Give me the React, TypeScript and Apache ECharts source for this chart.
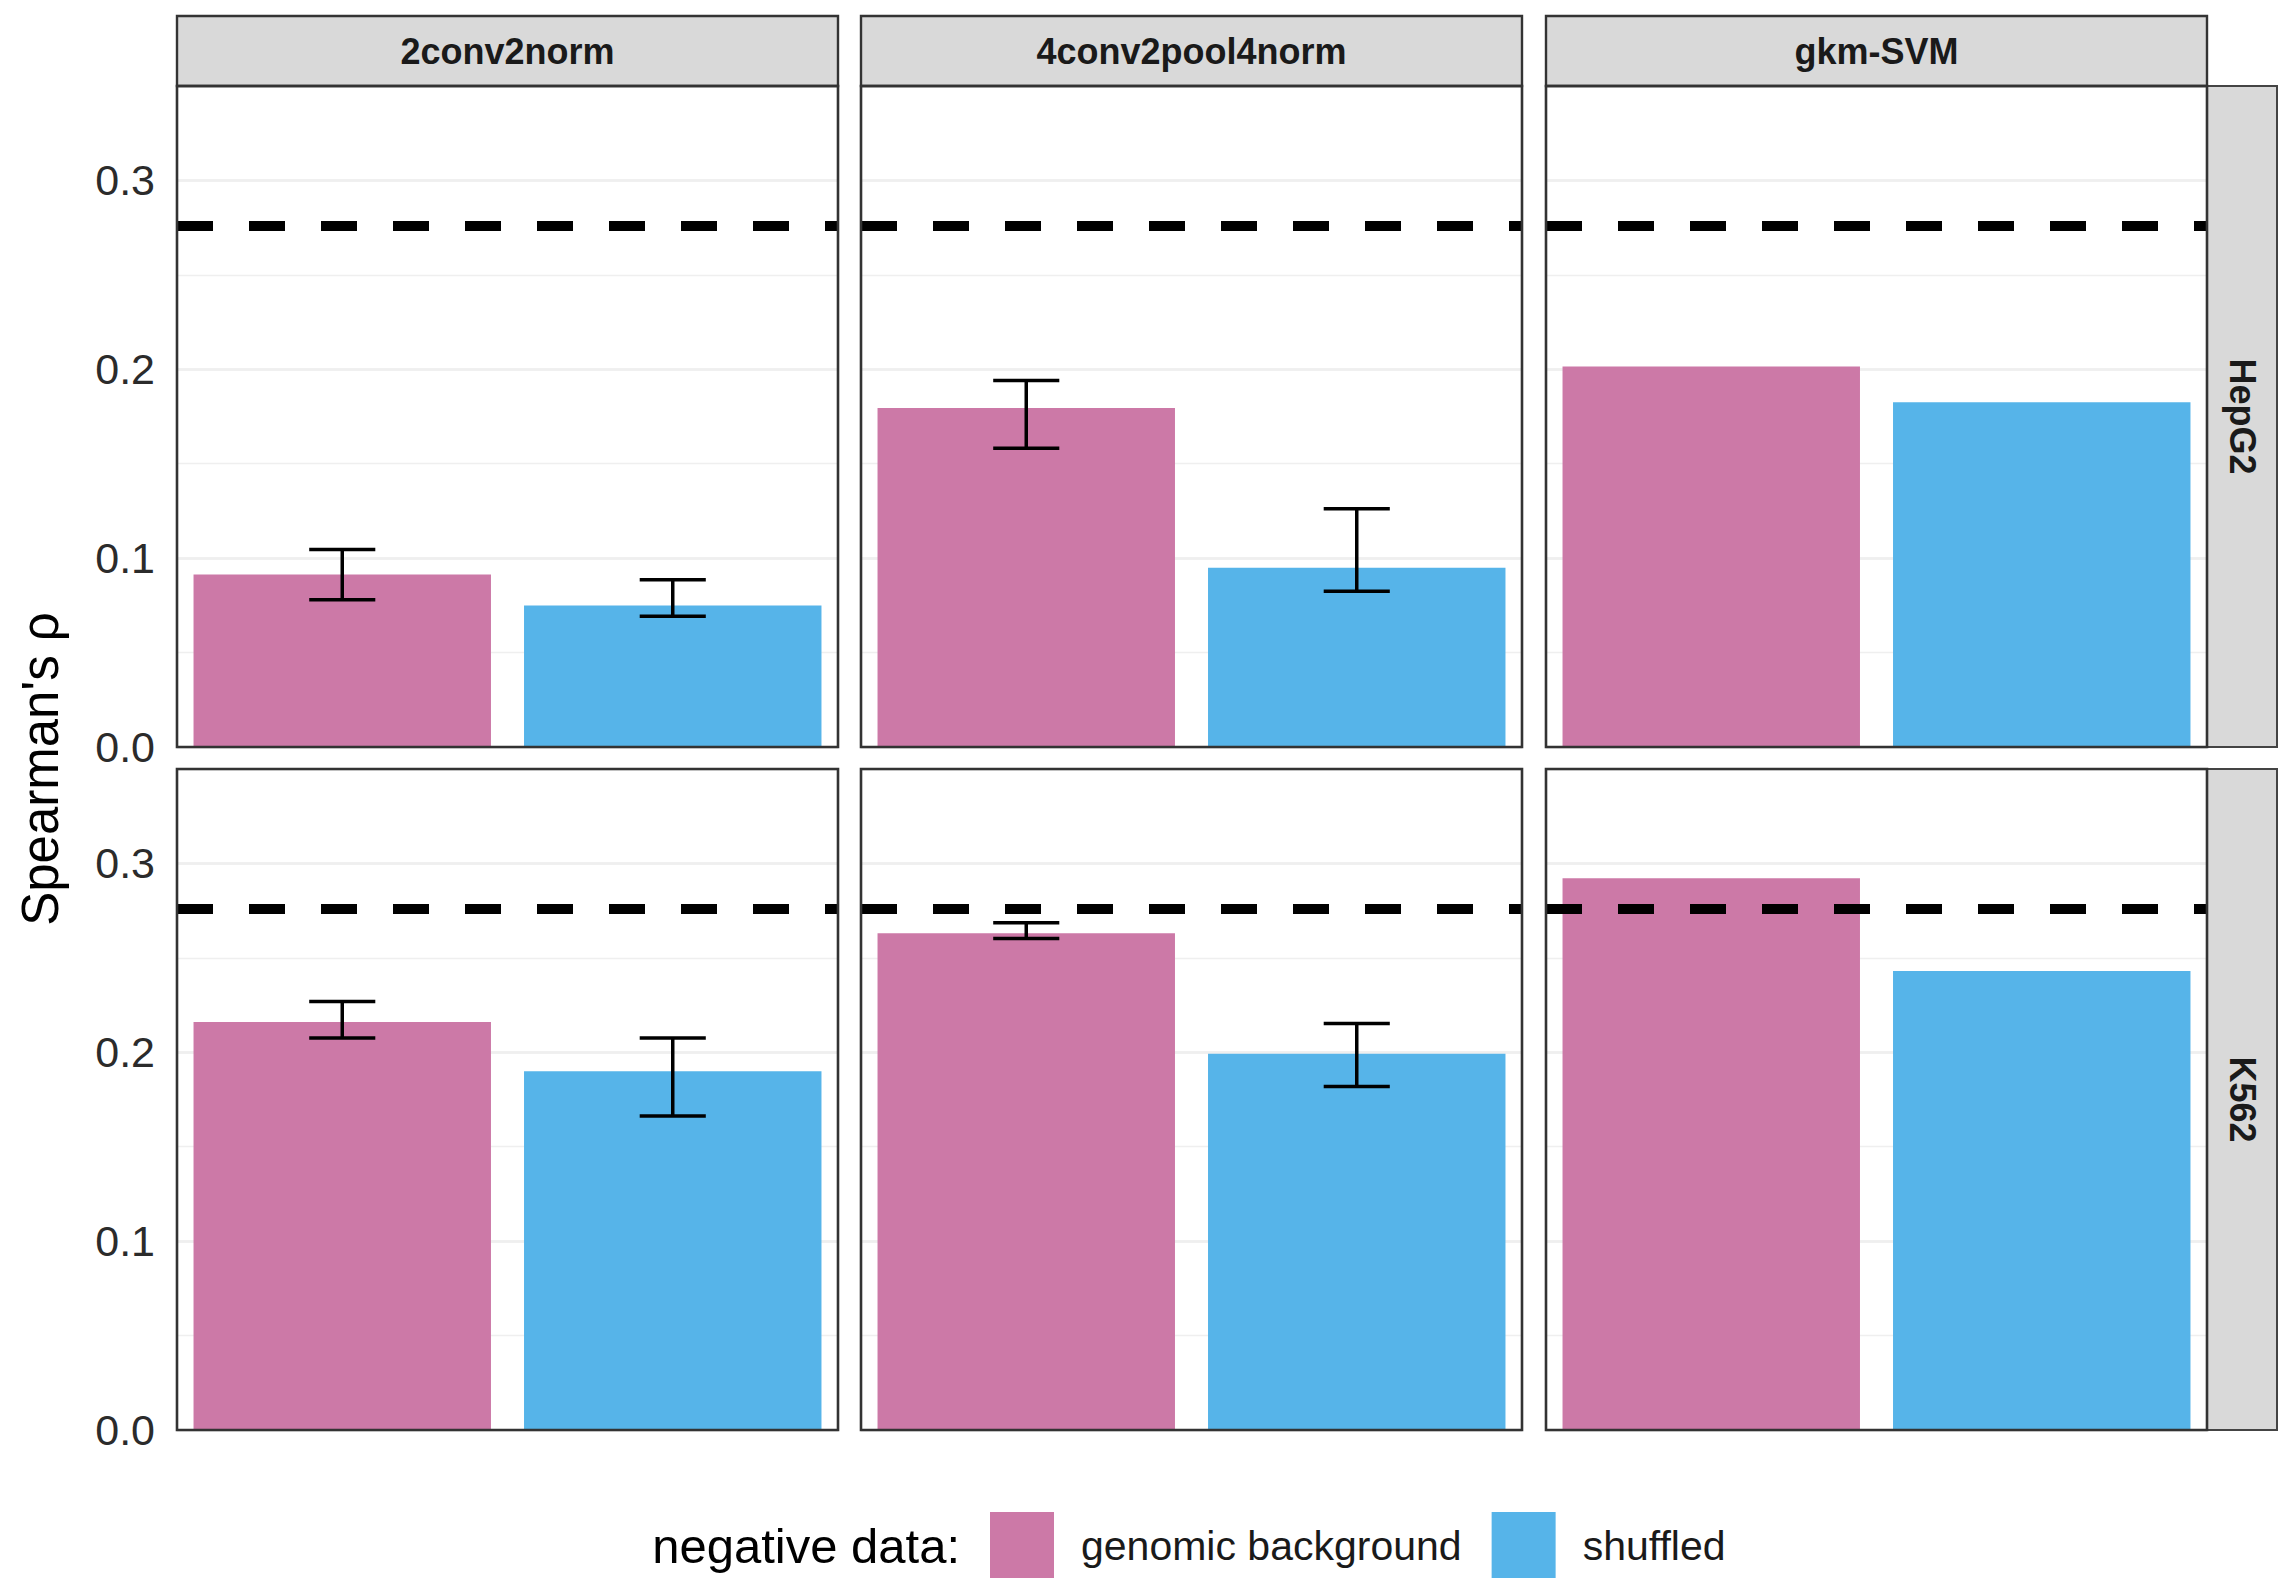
import React, { useEffect, useRef } from 'react';
import * as echarts from 'echarts';

// ---- data ----
const models = ['2conv2norm', '4conv2pool4norm', 'gkm-SVM'];
const cellLines = ['HepG2', 'K562'];
const negativeData = ['genomic background', 'shuffled'];

const genomicHepG2 = [0.0913, 0.1795, 0.2015];
const shuffledHepG2 = [0.0749, 0.0949, 0.1826];
const genomicK562 = [0.216, 0.263, 0.2921];
const shuffledK562 = [0.19, 0.1992, 0.243];

// error bar [low, high]; null = no error bar
const genomicHepG2Err = [[0.078, 0.1046], [0.1582, 0.1941], null];
const shuffledHepG2Err = [[0.0692, 0.0885], [0.0825, 0.1261], null];
const genomicK562Err = [[0.2075, 0.2269], [0.2603, 0.2686], null];
const shuffledK562Err = [[0.1662, 0.2075], [0.1819, 0.2153], null];

const referenceRho = [0.276, 0.276];
const yTickLabels = ['0.0', '0.1', '0.2', '0.3'];

const colors = ['#CC79A7', '#56B4E9'];

// ---- layout ----
const FONT = '"Liberation Sans", Arial, Helvetica, sans-serif';
const colLeft = [177, 861, 1546];
const rowTop = [86, 769];
const panelW = 661;
const panelH = 661;
const stripH = 70;
const rightStripW = 70;

export default function App() {
  const ref = useRef<HTMLDivElement>(null);

  useEffect(() => {
    if (!ref.current) return;
    const chart = echarts.init(ref.current, null, { renderer: 'svg' });

    const genomic = [genomicHepG2, genomicK562];
    const shuffled = [shuffledHepG2, shuffledK562];
    const genomicErr = [genomicHepG2Err, genomicK562Err];
    const shuffledErr = [shuffledHepG2Err, shuffledK562Err];

    const grids: any[] = [];
    const xAxes: any[] = [];
    const yAxes: any[] = [];
    const series: any[] = [];
    const graphics: any[] = [];

    cellLines.forEach((cl, r) => {
      models.forEach((m, c) => {
        const g = r * 3 + c;
        grids.push({
          left: colLeft[c],
          top: rowTop[r],
          width: panelW,
          height: panelH,
          containLabel: false,
          outerBoundsMode: 'none',
        });
        xAxes.push({
          type: 'category',
          gridIndex: g,
          data: negativeData,
          show: false,
        });
        yAxes.push({
          type: 'value',
          gridIndex: g,
          min: 0,
          max: 0.35,
          interval: 0.1,
          axisLine: { show: false },
          axisTick: { show: false },
          axisLabel: {
            show: c === 0,
            margin: 22,
            fontSize: 43,
            fontFamily: FONT,
            color: '#2B2B2B',
            formatter: (v: number) => {
              const i = Math.round(v * 10);
              return Math.abs(v * 10 - i) < 1e-6 && i < yTickLabels.length ? yTickLabels[i] : '';
            },
          },
          splitLine: { show: true, lineStyle: { color: '#EBEBEB', width: 2.6 } },
        });
        yAxes.push({
          type: 'value',
          gridIndex: g,
          min: 0,
          max: 0.35,
          interval: 0.05,
          position: 'left',
          axisLine: { show: false },
          axisTick: { show: false },
          axisLabel: { show: false },
          splitLine: { show: true, lineStyle: { color: '#EFEFEF', width: 1.3 } },
        });

        const vals = [genomic[r][c], shuffled[r][c]];
        negativeData.forEach((nd, k) => {
          const s: any = {
            type: 'bar',
            name: nd,
            xAxisIndex: g,
            yAxisIndex: g * 2,
            data: negativeData.map((_, j) => (j === k ? vals[k] : '-')),
            barGap: '-100%',
            barCategoryGap: '10%',
            itemStyle: { color: colors[k] },
            emphasis: { disabled: true },
            silent: true,
            z: 2,
          };
          if (k === 0) {
            s.markLine = {
              silent: true,
              precision: 4,
              symbol: ['none', 'none'],
              label: { show: false },
              lineStyle: { color: '#000000', width: 10, type: [36, 36], cap: 'butt' },
              data: [{ yAxis: referenceRho[r] }],
              z: 10,
            };
          }
          series.push(s);
        });

        const errs = [genomicErr[r][c], shuffledErr[r][c]];
        const errData = errs
          .map((e, k) => (e ? [k, e[0], e[1]] : null))
          .filter((d) => d !== null);
        if (errData.length) {
          series.push({
            type: 'custom',
            name: 'error',
            xAxisIndex: g,
            yAxisIndex: g * 2,
            silent: true,
            z: 5,
            encode: { x: 0, y: [1, 2] },
            data: errData,
            renderItem: (params: any, api: any) => {
              const xi = api.value(0);
              const lo = api.coord([xi, api.value(1)]);
              const hi = api.coord([xi, api.value(2)]);
              const bw = api.size([1, 0])[0];
              const hw = bw * 0.1;
              const style = { stroke: '#000000', lineWidth: 3.5 };
              return {
                type: 'group',
                children: [
                  { type: 'line', shape: { x1: lo[0], y1: lo[1], x2: hi[0], y2: hi[1] }, style },
                  { type: 'line', shape: { x1: lo[0] - hw, y1: lo[1], x2: lo[0] + hw, y2: lo[1] }, style },
                  { type: 'line', shape: { x1: hi[0] - hw, y1: hi[1], x2: hi[0] + hw, y2: hi[1] }, style },
                ],
              };
            },
          });
        }

        // panel border
        graphics.push({
          type: 'rect',
          z: 100,
          silent: true,
          shape: { x: colLeft[c], y: rowTop[r], width: panelW, height: panelH },
          style: { fill: 'none', stroke: '#333333', lineWidth: 2.6 },
        });
      });
    });

    // top strips
    models.forEach((m, c) => {
      graphics.push({
        type: 'rect',
        z: 90,
        silent: true,
        shape: { x: colLeft[c], y: rowTop[0] - stripH, width: panelW, height: stripH },
        style: { fill: '#D9D9D9', stroke: '#333333', lineWidth: 2.4 },
      });
      graphics.push({
        type: 'text',
        z: 101,
        silent: true,
        x: colLeft[c] + panelW / 2,
        y: rowTop[0] - stripH / 2,
        style: {
          text: m,
          fontSize: 36,
          fontWeight: 'bold',
          fontFamily: FONT,
          fill: '#1A1A1A',
          align: 'center',
          verticalAlign: 'middle',
        },
      });
    });

    // right strips
    cellLines.forEach((cl, r) => {
      const x0 = colLeft[2] + panelW;
      graphics.push({
        type: 'rect',
        z: 90,
        silent: true,
        shape: { x: x0, y: rowTop[r], width: rightStripW, height: panelH },
        style: { fill: '#D9D9D9', stroke: '#444444', lineWidth: 2 },
      });
      graphics.push({
        type: 'text',
        z: 101,
        silent: true,
        x: x0 + rightStripW / 2,
        y: rowTop[r] + panelH / 2,
        rotation: -Math.PI / 2,
        style: {
          text: cl,
          fontSize: 36,
          fontWeight: 'bold',
          fontFamily: FONT,
          fill: '#1A1A1A',
          align: 'center',
          verticalAlign: 'middle',
        },
      });
    });

    // y axis title
    graphics.push({
      type: 'text',
      z: 101,
      silent: true,
      x: 40,
      y: 769,
      rotation: Math.PI / 2,
      style: {
        text: "Spearman's \u03C1",
        fontSize: 51,
        fontFamily: FONT,
        fill: '#000000',
        align: 'center',
        verticalAlign: 'middle',
      },
    });

    // legend title
    graphics.push({
      type: 'text',
      z: 101,
      silent: true,
      x: 960,
      y: 1546,
      style: {
        text: 'negative data:',
        fontSize: 49,
        fontFamily: FONT,
        fill: '#000000',
        align: 'right',
        verticalAlign: 'middle',
      },
    });

    chart.setOption({
      animation: false,
      backgroundColor: '#FFFFFF',
      grid: grids,
      xAxis: xAxes,
      yAxis: yAxes,
      series,
      graphic: graphics,
      legend: {
        show: true,
        left: 990,
        top: 1512,
        padding: 0,
        orient: 'horizontal',
        itemWidth: 64,
        itemHeight: 68,
        itemGap: 30,
        icon: 'rect',
        selectedMode: false,
        data: negativeData,
        textStyle: {
          fontSize: 41,
          fontFamily: FONT,
          color: '#1A1A1A',
          padding: [0, 0, 0, 22],
        },
      },
    });

    return () => {
      chart.dispose();
    };
  }, []);

  return (
    <div
      ref={ref}
      style={{ position: 'absolute', left: 0, top: 0, width: 2286, height: 1578, background: '#fff' }}
    />
  );
}
